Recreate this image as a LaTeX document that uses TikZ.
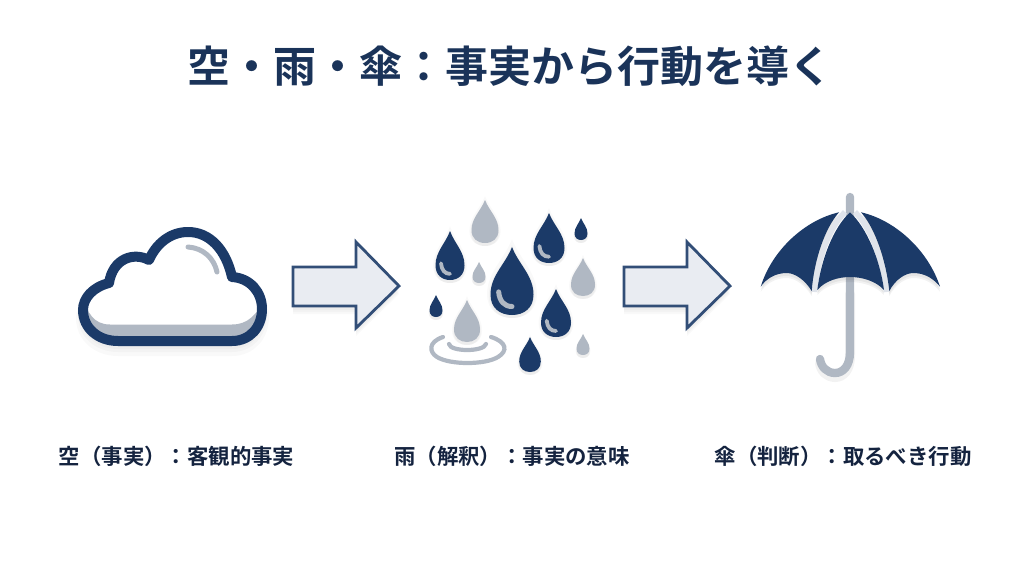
\documentclass[tikz,border=0pt]{standalone}
\usepackage{fontspec}
\newfontfamily\cjkb{Noto Sans CJK JP Bold}
\definecolor{navy}{HTML}{1B3A68}
\definecolor{titlenavy}{HTML}{1A3359}
\definecolor{textnavy}{HTML}{14233F}
\definecolor{softgray}{HTML}{B0B8C3}
\definecolor{rib}{HTML}{E0E4EB}
\definecolor{arrowfill}{HTML}{E9ECF2}
\tikzset{
  titletext/.style={font=\cjkb\fontsize{43pt}{50pt}\selectfont,text=titlenavy,inner sep=0pt},
  labeltext/.style={font=\cjkb\fontsize{21.4pt}{26pt}\selectfont,text=textnavy,inner sep=0pt},
  softshadow/.style={fill=black,opacity=0.025},
  gloss/.style={draw=softgray,line cap=round,fill=none},
  blockarrow/.style={draw=navy!90!white,fill=arrowfill,line width=2.8pt,line join=miter},
}
\newcommand{\dropshape}{(0,-1) .. controls (0.32,-0.74) and (1,-0.58) .. (1,-0.3) .. controls (1,-0.1) and (0.55,0) .. (0,0) .. controls (-0.55,0) and (-1,-0.1) .. (-1,-0.3) .. controls (-1,-0.58) and (-0.32,-0.74) .. (0,-1) -- cycle}
\newcommand{\rdrop}[5]{%
  \pgfmathsetmacro{\dh}{#3-#2}%
  \foreach \sc/\off in {1.16/3,1.08/3,1.0/3}{%
    \begin{scope}[shift={(#1,#3+\off)},xscale=#4*\sc,yscale=\dh*\sc]
      \fill[softshadow] \dropshape;
    \end{scope}}%
  \begin{scope}[shift={(#1,#3)},xscale=#4,yscale=\dh]
    \fill[#5] \dropshape;
  \end{scope}}
\newcommand{\gdrop}[6]{%
  \rdrop{#1}{#2}{#3}{#4}{#5}%
  \pgfmathsetmacro{\dh}{#3-#2}%
  \begin{scope}[shift={(#1,#3)},xscale=#4,yscale=\dh]
    \draw[gloss,line width=#6pt] (-0.62,-0.34) .. controls (-0.58,-0.2) and (-0.35,-0.125) .. (0,-0.125);
  \end{scope}}
\newcommand{\blockarrowat}[1]{%
  \begin{scope}[shift={(#1,0)}]
    \foreach \dy in {8,6,4}{\fill[softshadow,shift={(0,\dy)}] (0,267)--(63,267)--(63,242)--(106,286)--(63,328)--(63,306)--(0,306)--cycle;}
    \draw[blockarrow] (0,267)--(63,267)--(63,242)--(106,286)--(63,328)--(63,306)--(0,306)--cycle;
  \end{scope}}
\begin{document}
\begin{tikzpicture}[x=1pt,y=-1pt]
\useasboundingbox (0,0) rectangle (1024,572);
\fill[white] (0,0) rectangle (1024,572);

% title and labels
\node[titletext] (title) at (510,66) {空・雨・傘：事実から行動を導く};
\node[labeltext] (lab1) at (176.5,456) {空（事実）：客観的事実};
\node[labeltext] (lab2) at (512,456) {雨（解釈）：事実の意味};
\node[labeltext] (lab3) at (843,456) {傘（判断）：取るべき行動};

% cloud
\def\cloudpath{(118,341) -- (232,341) .. controls (250,341) and (262,327) .. (262,309) .. controls (262,292) and (250,278) .. (232,277) .. controls (226,250) and (210,232) .. (188,232) .. controls (170,232) and (156,244) .. (149,260) .. controls (134,252) and (113,258) .. (109,283) .. controls (93,287) and (83,298) .. (83,310) .. controls (83,328) and (98,341) .. (118,341) -- cycle}
\foreach \o/\w in {8/14,6/10,5/6}{\draw[black,opacity=0.025,line width=\w pt,shift={(0,\o)}] \cloudpath;}
\fill[white] \cloudpath;
\begin{scope}
  \clip \cloudpath;
  \fill[softgray] (82,298) .. controls (88,312) and (93,324.5) .. (110,324.5) -- (232,324.5) .. controls (248,324.5) and (256,315) .. (266,298) -- (266,345) -- (80,345) -- cycle;
\end{scope}
\draw[navy,line width=10pt,line join=round] \cloudpath;
\draw[gloss,line width=5pt] (188,247) .. controls (203,248) and (214,258) .. (217,272);

% arrows
\blockarrowat{293}
\blockarrowat{624}

% rain drops
\rdrop{485}{200}{243}{13.5}{softgray}
\gdrop{450}{231}{280}{14.5}{navy}{3.8}
\gdrop{549}{213}{263}{15.5}{navy}{3.8}
\rdrop{581}{218}{240}{6.5}{navy}
\rdrop{479}{262}{283}{6.5}{softgray}
\gdrop{512}{247}{315}{21.5}{navy}{5}
\rdrop{583}{258}{296}{12}{softgray}
\rdrop{436}{295}{317}{6.5}{navy}
\rdrop{467}{300}{342}{13}{softgray}
\gdrop{556}{289}{337}{15}{navy}{3.8}
\rdrop{530}{337}{372}{10.8}{navy}
\rdrop{583}{334}{355}{6.5}{softgray}
\draw[softgray,line width=4.2pt,line cap=round] (443,337) .. controls (428,342) and (429,352) .. (437,357) .. controls (450,365) and (485,365) .. (498,357) .. controls (508,351) and (507,342) .. (491,337);
\draw[softgray,line width=4.2pt,line cap=round] (449,344) .. controls (450,352) and (484,352) .. (486,344);

% umbrella
\draw[black,opacity=0.05,line width=10pt,line cap=round,shift={(0,4)}] (850,290) -- (850,352) .. controls (850,366) and (843,373) .. (835,373) .. controls (827,373) and (821,367) .. (820,359);
\draw[softgray,line width=8.3pt,line cap=round] (850,197) -- (850,352) .. controls (850,366) and (843,373) .. (835,373) .. controls (827,373) and (821,367) .. (820,359);
\def\lpanel{(760.7,286.7) .. controls (772,250) and (805,220) .. (839,212.3) .. controls (825,228) and (814,260) .. (811.7,291) .. controls (805,280) and (795,273) .. (786.7,273) .. controls (775,273) and (766,279) .. (760.7,286.7) -- cycle}
\def\cpanel{(850,212.3) .. controls (833,228) and (821,260) .. (817.3,290) .. controls (825,281) and (838,277) .. (850,277) .. controls (862,277) and (876,281) .. (884,290) .. controls (880,260) and (867,228) .. (850,212.3) -- cycle}
\def\rpanel{(940,286.7) .. controls (928,250) and (895,220) .. (861,212.3) .. controls (875,228) and (886,260) .. (889.3,291) .. controls (895,280) and (905,273) .. (913.3,273) .. controls (925,273) and (934,279) .. (940,286.7) -- cycle}
\foreach \o in {3,5}{\fill[black,opacity=0.05,shift={(0,\o)}] \lpanel; \fill[black,opacity=0.05,shift={(0,\o)}] \cpanel; \fill[black,opacity=0.05,shift={(0,\o)}] \rpanel;}
\draw[rib,line width=5.5pt] (845,212) .. controls (829,228) and (817,260) .. (814.5,292);
\draw[rib,line width=5.5pt] (855,212) .. controls (871,228) and (883,260) .. (886.5,292);
\fill[navy] \lpanel;
\fill[navy] \cpanel;
\fill[navy] \rpanel;
\end{tikzpicture}
\end{document}
